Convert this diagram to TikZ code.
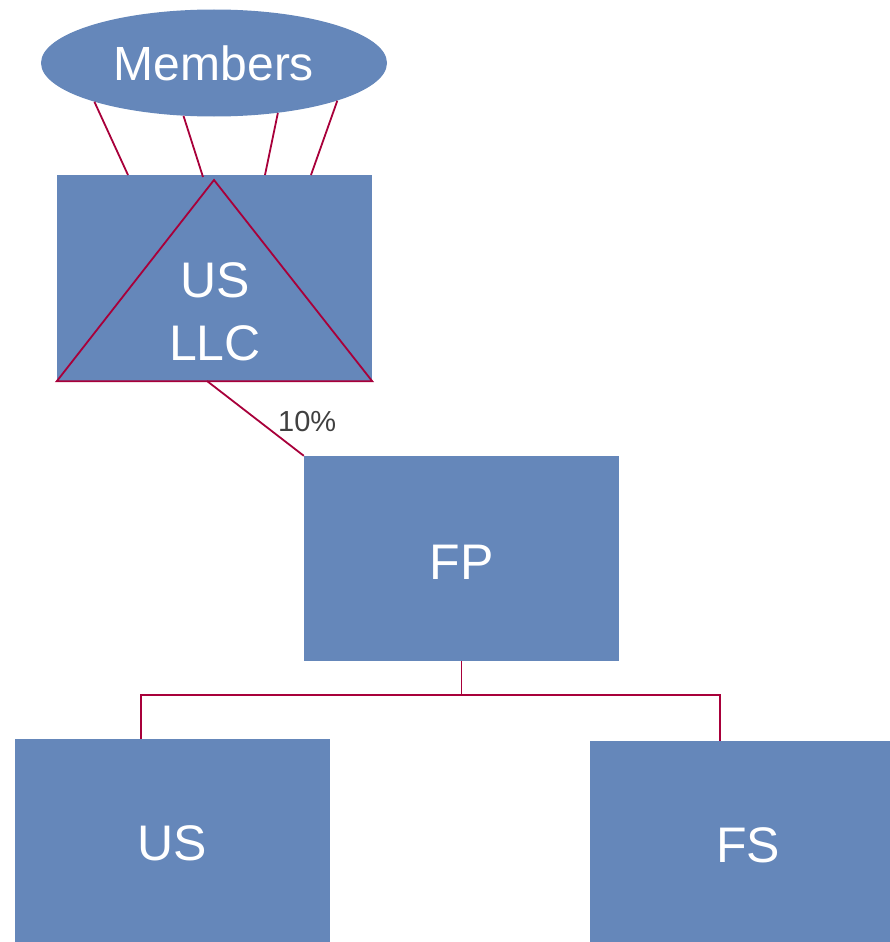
\documentclass[tikz,border=0pt]{standalone}
\usepackage{fontspec}
\setmainfont{Liberation Sans}
\usetikzlibrary{shapes.geometric}
\definecolor{boxblue}{RGB}{101,135,186}
\definecolor{linkred}{RGB}{168,0,58}
\definecolor{labelgray}{RGB}{64,64,64}
\begin{document}
\begin{tikzpicture}[x=1pt,y=-1pt,
  entity/.style={rectangle,fill=boxblue,inner sep=0pt},
  etext/.style={text=white,font=\fontsize{50}{63}\selectfont,align=center,inner sep=0pt},
  link/.style={draw=linkred,line width=1.8pt},
  pct/.style={text=labelgray,font=\fontsize{29}{34}\selectfont,inner sep=0pt}]
\useasboundingbox (0,0) rectangle (890,942);
% nodes
\node[ellipse,fill=boxblue,minimum width=346pt,minimum height=107pt,inner sep=0pt,
  text=white,font=\fontsize{48}{58}\selectfont] (mem) at (214,63) {Members};
\node[entity,minimum width=315pt,minimum height=206pt] (llc) at (214.5,278) {};
\node[entity,minimum width=315pt,minimum height=205pt] (fp) at (461.5,558.5) {};
\node[entity,minimum width=315pt,minimum height=203pt] (usn) at (172.5,840.5) {};
\node[entity,minimum width=300pt,minimum height=201pt] (fs) at (740,841.5) {};
% triangle inside US LLC
\coordinate (apex) at (214,180);
\draw[link,line join=miter] (llc.south west) -- (apex) -- (llc.south east) -- cycle;
\node[etext] (llctext) at (215,312) {US\\LLC};
\node[etext] (fptext) at (461.5,562) {FP};
\node[etext] (ustext) at (172,843) {US};
\node[etext] (fstext) at (748,845) {FS};
% member lines
\coordinate (m1) at (128,175);
\coordinate (m2) at (203,177);
\coordinate (m3) at (265,175);
\coordinate (m4) at (311,175);
\draw[link] (mem.-162.3) -- (m1);
\draw[link] (mem.240.5) -- (m2);
\draw[link] (mem.-38.4) -- (m3);
\draw[link] (mem.-17.6) -- (m4);
% 10% link
\coordinate (llcb) at (207,381);
\draw[link] (llcb) -- (fp.north west);
\node[pct,anchor=west] (p10) at (278,422) {10\%};
% tree
\coordinate (bar) at (461.5,695);
\coordinate (ut) at (141,739);
\coordinate (ft) at (720,741);
\draw[link] (fp.south) -- (bar);
\draw[link] (ut) |- (bar) -| (ft);
\end{tikzpicture}
\end{document}
